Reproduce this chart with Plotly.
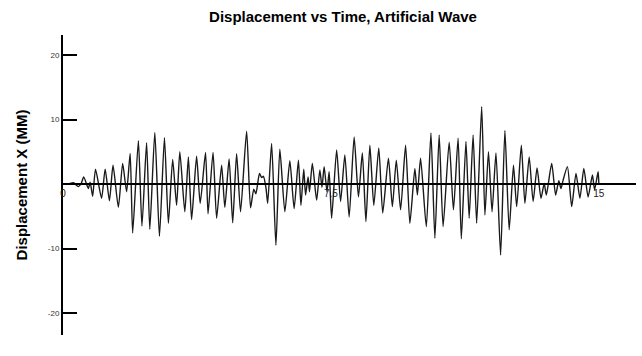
import plotly.graph_objects as go

# Time (s) and displacement (mm) (extrema)
time_s = [0.00, 0.15, 0.29, 0.43, 0.51, 0.58, 0.71, 0.76, 0.83, 0.91,
          1.08, 1.18, 1.30, 1.40, 1.55, 1.67, 1.78, 1.88, 1.95, 2.11,
          2.21, 2.34, 2.43, 2.57, 2.70, 2.84, 2.95, 3.07, 3.18, 3.27,
          3.41, 3.51, 3.60, 3.74, 3.84, 3.99, 4.06, 4.20, 4.30, 4.44,
          4.53, 4.65, 4.75, 4.86, 4.97, 5.14, 5.25, 5.34, 5.40, 5.50,
          5.56, 5.61, 5.68, 5.73, 5.84, 5.96, 6.07, 6.21, 6.35, 6.47,
          6.59, 6.66, 6.74, 6.79, 6.86, 6.90, 6.98, 7.10, 7.19, 7.25,
          7.31, 7.39, 7.45, 7.52, 7.66, 7.77, 7.89, 8.01, 8.15, 8.27,
          8.38, 8.48, 8.59, 8.70, 8.84, 8.95, 9.11, 9.22, 9.33, 9.45,
          9.59, 9.71, 9.85, 9.92, 10.01, 10.17, 10.30, 10.41, 10.53, 10.64,
          10.81, 10.93, 11.06, 11.15, 11.28, 11.37, 11.48, 11.58, 11.72, 11.81,
          11.91, 12.01, 12.12, 12.25, 12.37, 12.49, 12.61, 12.70, 12.83, 12.93,
          13.05, 13.16, 13.27, 13.38, 13.47, 13.53, 13.68, 13.79, 13.88, 13.94,
          14.00, 14.12, 14.24, 14.36, 14.47, 14.58, 14.70, 14.82, 14.88, 14.98,
          15.00]
disp_mm = [0.0, 0.0, 0.2, -0.4, 0.1, 1.1, -0.7, 0.3, -1.9, 2.3,
           -2.2, 2.3, -2.6, 2.9, -3.6, 3.2, -1.2, 4.75, -7.6, 6.7,
           -6.5, 6.4, -7.0, 8.0, -8.1, 7.2, -6.1, 3.8, -3.3, 5.0,
           -4.3, 4.2, -5.5, 4.3, -3.0, 4.9, -4.6, 4.9, -5.3, 2.9,
           -3.6, 3.9, -6.0, 4.7, -4.3, 8.2, -3.7, -0.8, -1.5, 1.65,
           1.0, 1.2, -0.5, -3.0, 6.3, -9.5, 5.4, -4.3, 3.6, -3.8,
           3.7, -3.3, 2.3, -1.7, 1.1, -1.2, 3.2, -2.5, 2.2, -0.5,
           2.7, -1.2, 1.9, -5.3, 5.3, -2.7, 4.5, -5.1, 7.3, -2.0,
           4.8, -5.8, 6.0, -3.3, 5.6, -4.5, 4.0, -3.5, 3.7, -4.0,
           6.0, -6.1, 2.4, -1.7, 4.0, -6.6, 7.9, -8.4, 7.6, -6.6,
           6.5, -4.0, 7.1, -8.5, 6.6, -5.3, 7.6, -6.1, 12.0, -4.8,
           5.0, -4.3, 4.8, -11.0, 8.3, -7.1, 2.9, -3.5, 6.0, -3.0,
           4.2, -2.7, 2.5, -2.2, 0.1, -1.7, 3.2, -1.7, 0.5, -0.7,
           0.6, 2.7, -3.5, 1.65, -2.2, 2.4, -2.0, 1.4, -0.9, 1.9,
           0.0]

x_ticks = [0, 7.5, 15]
x_tick_text = ["0", "7.5", "15"]
y_ticks = [-20, -10, 10, 20]
y_tick_text = ["-20", "-10", "10", "20"]

x_range = [0, 16.04]
y_range = [-23.4, 23.1]

fig = go.Figure()
fig.add_trace(go.Scatter(
    x=time_s, y=disp_mm, mode="lines",
    line=dict(color="#1a1a1a", width=1.4, shape="spline", smoothing=0.6),
    hoverinfo="skip", showlegend=False,
))

zero_pos = (0 - y_range[0]) / (y_range[1] - y_range[0])

fig.update_layout(
    width=642, height=356,
    margin=dict(l=63, r=6, t=35, b=21),
    paper_bgcolor="white", plot_bgcolor="white",
    font=dict(family="Liberation Sans, Arial, sans-serif", color="black"),
    title=dict(text="<b>Displacement vs Time, Artificial Wave</b>",
               x=343 / 642, xref="container", xanchor="center",
               y=1 - 17 / 356, yref="container", yanchor="middle",
               font=dict(size=15, color="black")),
    xaxis=dict(range=x_range, showgrid=False, zeroline=False,
               showline=True, linecolor="black", linewidth=2,
               anchor="free", position=zero_pos,
               tickmode="array", tickvals=x_ticks, ticktext=x_tick_text,
               ticks="", tickfont=dict(size=10, color="#222"),
               ticklabelstandoff=0),
    yaxis=dict(range=y_range, showgrid=False, zeroline=False,
               showline=True, linecolor="black", linewidth=2,
               tickmode="array", tickvals=y_ticks, ticktext=y_tick_text,
               ticks="inside", ticklen=14, tickwidth=2, tickcolor="black",
               tickfont=dict(size=8, color="#333"),
               title=dict(text="<b>Displacement X (MM)</b>",
                          font=dict(size=15, color="black"), standoff=17)),
)

fig.write_html("out.html")
